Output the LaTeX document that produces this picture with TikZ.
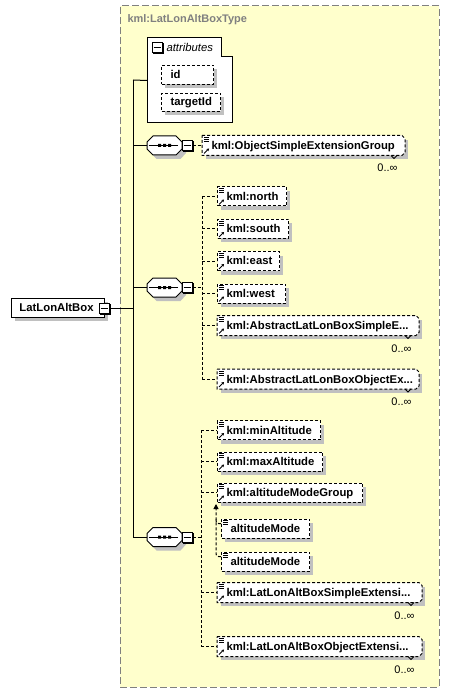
\documentclass[tikz,border=0pt]{standalone}
\usepackage{fontspec}
\setmainfont{Liberation Sans}
\usetikzlibrary{arrows.meta}
\definecolor{bgyellow}{HTML}{FFFFCC}
\definecolor{shdc}{HTML}{C0C0C0}
\definecolor{titlegray}{HTML}{808080}
\tikzset{
  elbox/.style={draw, dash pattern=on 3pt off 2pt, fill=white, minimum height=19pt, inner sep=0pt, line width=1pt},
  solidbox/.style={draw, fill=white, minimum height=19pt, inner sep=0pt, line width=1pt},
  ghost/.style={inner sep=0pt, minimum height=19pt},
  eltext/.style={inner sep=0pt, font=\fontsize{11.3}{13}\selectfont\bfseries},
  occ/.style={inner sep=0pt, font=\fontsize{11}{13}\selectfont},
  dconn/.style={line width=1pt, dash pattern=on 3pt off 2pt},
  shd/.style={fill=shdc},
  minusbox/.style={draw, fill=white, minimum size=10pt, inner sep=0pt, line width=1pt},
}
\newcommand{\xlines}[2]{\draw[line width=0.8pt] (#1+2,#2+1.5) -- ++(5,0) (#1+2,#2+3.5) -- ++(5,0) (#1+2,#2+5.5) -- ++(5,0);}
\newcommand{\xarrow}[2]{\draw[line width=0.8pt,-{Stealth[length=2.5pt,width=3pt]}] (#1+2,#2-1.5) -- (#1+7,#2-6.5);}
\newcommand{\xminus}[3]{%
  \fill[black] (#2-4.5,#3-4.5) rectangle (#2+6.5,#3+6.5);
  \node[minusbox] (#1) at (#2,#3) {};
  \draw ([xshift=2pt]#1.west) -- ([xshift=-2pt]#1.east);}
\newcommand{\xel}[5]{%
  \fill[shd] (#2+4,#3-5.5) rectangle (#2+#4+4,#3+13.5);
  \node[elbox, minimum width=#4pt, anchor=west] (#1) at (#2,#3) {};
  \node[eltext, anchor=base west] (#1-t) at (#2+9,#3+4) {#5};
  \xlines{#2}{#3-9.5}
  \xarrow{#2}{#3+9.5}}
\newcommand{\xal}[5]{%
  \fill[shd] (#2+4,#3-5.5) rectangle (#2+#4+4,#3+13.5);
  \node[elbox, minimum width=#4pt, anchor=west] (#1) at (#2,#3) {};
  \node[eltext, anchor=base west] (#1-t) at (#2+9,#3+4) {#5};
  \xlines{#2}{#3-9.5}}
\newcommand{\xelm}[5]{%
  \fill[shd] (#2+4,#3-5.5) rectangle (#2+#4+4,#3+13.5);
  \node[ghost, minimum width=#4pt, anchor=west] (#1) at (#2,#3) {};
  \draw[dconn, fill=white] (#1.north west) -- ([xshift=-3pt]#1.north east) -- ([yshift=-3pt]#1.north east) -- ([yshift=3pt]#1.south east) -- ([xshift=-3pt]#1.south east) -- (#1.south west) -- cycle;
  \draw[line width=0.8pt] ([xshift=-14pt]#1.south east) -- ++(3,3) -- ++(3,-3);
  \node[eltext, anchor=base west] (#1-t) at (#2+9,#3+4) {#5};
  \node[occ, anchor=base east] (#1-o) at (#2+#4-6,#3+26.5) {0..∞};
  \xlines{#2}{#3-9.5}
  \xarrow{#2}{#3+9.5}}
\newcommand{\xseq}[3]{%
  \node[ghost, minimum width=35pt] (#1) at (#2,#3) {};
  \fill[shd] (#2-13.5,#3-3.5) -- (#2-8,#3-5.5) -- (#2+16,#3-5.5) -- (#2+21.5,#3+0.5) -- (#2+21.5,#3+7.5) -- (#2+16,#3+13.5) -- (#2-8,#3+13.5) -- (#2-13.5,#3+7.5) -- cycle;
  \draw[fill=white] (#2-17.5,#3-3.5) -- (#2-11.5,#3-9.5) -- (#2+11.5,#3-9.5) -- (#2+17.5,#3-3.5) -- (#2+17.5,#3+3.5) -- (#2+11.5,#3+9.5) -- (#2-11.5,#3+9.5) -- (#2-17.5,#3+3.5) -- cycle;
  \draw (#2-16,#3) -- (#2+13,#3);
  \fill (#2-6.5,#3-1.5) rectangle ++(3,3) (#2-1.5,#3-1.5) rectangle ++(3,3) (#2+3.5,#3-1.5) rectangle ++(3,3);
  \xminus{#1-m}{#2+22.5}{#3}}
\begin{document}
\begin{tikzpicture}[x=1pt,y=-1pt,line width=1pt]
\useasboundingbox (0,0) rectangle (449,692);
% type container
\node[draw=titlegray, fill=bgyellow, dash pattern=on 7pt off 3pt, line width=1pt, minimum width=319pt, minimum height=681pt, anchor=north west, inner sep=0pt] (type) at (119.5,5.5) {};
\node[anchor=base west, inner sep=0pt, font=\fontsize{11}{13}\selectfont\bfseries, text=titlegray] (title) at (127,23) {kml:LatLonAltBoxType};
% attributes
\node[ghost, minimum width=84pt, minimum height=84pt, anchor=north west] (attr) at (147,38) {};
\draw[fill=white] (attr.north west) -- ([xshift=-11pt]attr.north east) -- ([xshift=-11pt,yshift=-19pt]attr.north east) -- ([yshift=-19pt]attr.north east) -- (attr.south east) -- (attr.south west) -- cycle;
\xminus{attrm}{157}{48}
\node[anchor=base west, inner sep=0pt, font=\fontsize{11.3}{13}\selectfont\itshape] (attrt) at (166,52) {attributes};
\fill[shd] (165,69) rectangle (217,88);
\node[elbox, minimum width=52pt, anchor=north west] (id) at (161,65) {};
\node[eltext, anchor=base west] (idt) at (170,78.5) {id};
\fill[shd] (165,97) rectangle (224,115);
\node[elbox, minimum width=59pt, minimum height=18pt, anchor=north west] (tid) at (161,93) {};
\node[eltext, anchor=base west] (tidt) at (170,106) {targetId};
% root
\fill[shd] (15,302) rectangle (108,321);
\node[solidbox, minimum width=93pt, anchor=west] (root) at (11,307.5) {};
\node[eltext, anchor=base west] (roott) at (19,311.5) {LatLonAltBox};
\xminus{root-m}{104}{308}
% spine
\coordinate (spa) at (133,80);
\coordinate (spb) at (133,537);
\draw (spa) -- (spb);
\draw (spa) -- (attr.west);
\draw (root-m.east) -- (root-m.east -| spa);
% sequences
\xseq{s1}{164.5}{145.5}
\xseq{s2}{164.5}{287.5}
\xseq{s3}{164.5}{537}
\draw (s1.west -| spa) -- (s1.west);
\draw (s2.west -| spa) -- (s2.west);
\draw (s3.west -| spa) -- (s3.west);
% seq 1
\xelm{osg}{202}{145.5}{202}{kml:ObjectSimpleExtensionGroup}
\draw[dconn] (s1-m.east) -- (osg.west);
% seq 2
\xel{north}{217}{196.5}{69}{kml:north}
\xel{south}{217}{229}{71}{kml:south}
\xel{east}{217}{261}{62}{kml:east}
\xel{west}{217}{293.5}{68}{kml:west}
\xelm{alse}{217}{325.5}{201}{kml:AbstractLatLonBoxSimpleE...}
\xelm{aloe}{217}{379}{201}{kml:AbstractLatLonBoxObjectEx...}
\coordinate (v2) at (202,287.5);
\draw[dconn] (s2-m.east) -- (v2);
\draw[dconn] (north.west -| v2) -- (aloe.west -| v2);
\foreach \n in {north,south,east,west,alse,aloe} \draw[dconn] (\n.west -| v2) -- (\n.west);
% seq 3
\xel{minalt}{217}{430}{103}{kml:minAltitude}
\xel{maxalt}{217}{461.5}{105}{kml:maxAltitude}
\xel{amg}{217}{492.5}{145}{kml:altitudeModeGroup}
\xal{am1}{221}{528.5}{88}{altitudeMode}
\xal{am2}{221}{561.5}{88}{altitudeMode}
\xelm{llse}{217}{592.5}{204}{kml:LatLonAltBoxSimpleExtensi...}
\xelm{lloe}{217}{646.5}{204}{kml:LatLonAltBoxObjectExtensi...}
\coordinate (v3) at (201,537);
\draw[dconn] (s3-m.east) -- (v3);
\draw[dconn] (minalt.west -| v3) -- (lloe.west -| v3);
\foreach \n in {minalt,maxalt,amg,llse,lloe} \draw[dconn] (\n.west -| v3) -- (\n.west);
% substitution group
\coordinate (subx) at (216,500);
\draw[dconn, rounded corners=2.5pt, -{Triangle[length=5pt,width=5pt]}] ([yshift=-5pt]am2.north west) -| ([yshift=-1.5pt]amg.south -| subx);
\draw[dconn, rounded corners=2.5pt] ([yshift=-5pt]am1.north west) -| (am1.north west -| subx);
\end{tikzpicture}
\end{document}
